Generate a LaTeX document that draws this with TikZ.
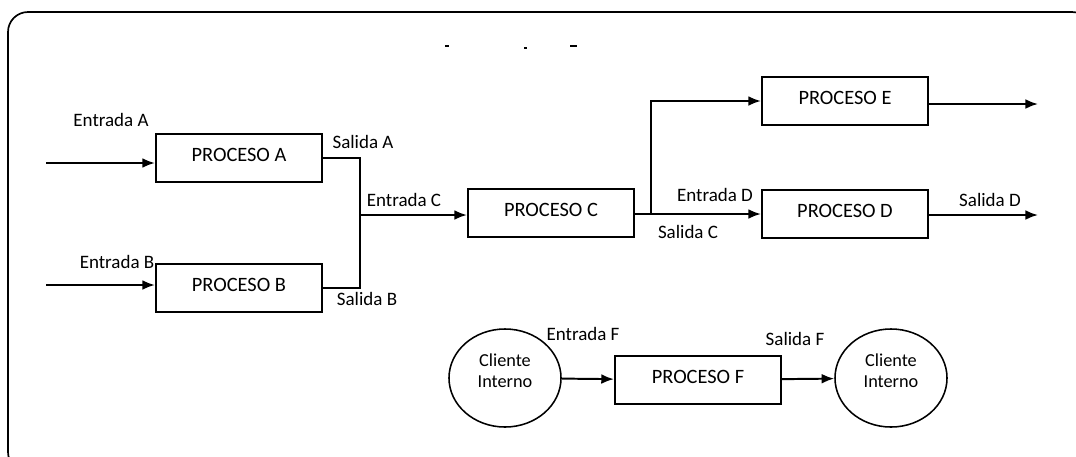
\documentclass[tikz,border=0pt]{standalone}
\usepackage{fontspec}
\setmainfont{Carlito}
\usetikzlibrary{arrows.meta, shapes.geometric}

\begin{document}
\begin{tikzpicture}[x=0.025cm, y=-0.025cm, >={Latex[length=9pt,width=7pt]},
  proc/.style={draw, line width=1.5pt, minimum width=4.15cm, minimum height=1.2cm,
    text depth=0.5em, font=\fontsize{14.5}{16}\selectfont},
  cliente/.style={draw, ellipse, line width=1.1pt, minimum width=2.8cm, minimum height=2.45cm,
    align=center, text depth=10pt, font=\fontsize{13}{15}\selectfont},
  lbl/.style={inner sep=0pt, font=\fontsize{13.5}{15}\selectfont},
  link/.style={line width=1.4pt},
  flow/.style={->, line width=1.4pt}]

\useasboundingbox (0,0) rectangle (1076,456);

% frame
\draw[line width=1.2pt, rounded corners=0.5cm] (8,12) rectangle (1092,472);
\draw[line width=1.4pt] (445,46) -- (449,46);
\draw[line width=1.4pt] (524,48) -- (527,48);
\draw[line width=1.4pt] (570,46) -- (577,46);

% processes
\node[proc] (pa) at (239,158) {PROCESO A};
\node[proc] (pb) at (239,288) {PROCESO B};
\node[proc] (pc) at (551,213) {PROCESO C};
\node[proc] (pe) at (845,101) {PROCESO E};
\node[proc] (pd) at (845,214) {PROCESO D};
\node[proc] (pf) at (698,380) {PROCESO F};

% clients
\node[cliente] (ca) at (505,378) {Cliente\\Interno};
\node[cliente] (cb) at (891,378) {Cliente\\Interno};

% free ends
\coordinate (inA) at (46,163);
\coordinate (inB) at (46,285);
\coordinate (jn) at (360,215);
\coordinate (br) at (651,214);
\coordinate (outE) at (1038,104);
\coordinate (outD) at (1038,215);

% flows
\draw[flow] (inA) -- (inA -| pa.west);
\draw[flow] (inB) -- (inB -| pb.west);
\draw[link] (pa.east) -| (jn) |- (pb.east);
\draw[flow] (jn) -- (jn -| pc.west);
\draw[link] (pc.east |- br) -- (br);
\draw[flow] (br) -- (br -| pd.west);
\draw[flow] (br) |- (pe.west);
\draw[flow] (outE -| pe.east) -- (outE);
\draw[flow] (outD -| pd.east) -- (outD);
\draw[flow] (ca) -- (pf);
\draw[flow] (pf) -- (cb);

% labels
\node[lbl] (lea) at (111,120) {Entrada A};
\node[lbl] (lsa) at (363,142) {Salida A};
\node[lbl] (leb) at (117,262) {Entrada B};
\node[lbl] (lsb) at (367,299) {Salida B};
\node[lbl] (lec) at (404,200) {Entrada C};
\node[lbl] (led) at (715,195) {Entrada D};
\node[lbl] (lsc) at (688,232) {Salida C};
\node[lbl] (lsd) at (990,200) {Salida D};
\node[lbl] (lef) at (583,334) {Entrada F};
\node[lbl] (lsf) at (795,339) {Salida F};

\end{tikzpicture}
\end{document}
